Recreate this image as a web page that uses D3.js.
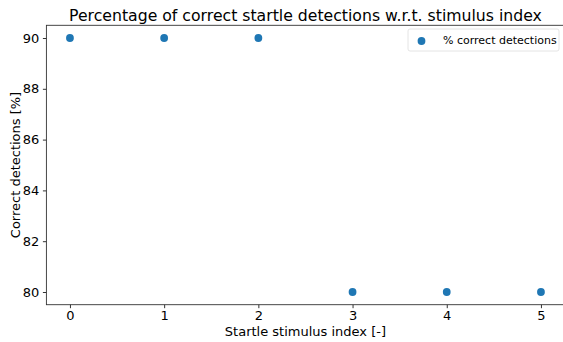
<!DOCTYPE html>
<html>
<head>
<meta charset="utf-8">
<script src="https://cdn.jsdelivr.net/npm/d3@7"></script>
<style>
  body { margin: 0; background: #fff; }
  text { font-family: "DejaVu Sans", sans-serif; fill: #000; }
</style>
</head>
<body>
<script>
const stimulusIndex = [0, 1, 2, 3, 4, 5];
const correctPct = [90, 90, 90, 80, 80, 80];
const yTicks = [80, 82, 84, 86, 88, 90];
const xTicks = [0, 1, 2, 3, 4, 5];

const width = 563, height = 342;
const plot = { left: 46.4, right: 564.5, top: 25.3, bottom: 304.7 };

const x = d3.scaleLinear().domain([-0.25, 5.25]).range([plot.left, plot.right]);
const y = d3.scaleLinear().domain([79.5, 90.5]).range([plot.bottom, plot.top]);

const svg = d3.select('body')
    .append('svg')
    .attr('width', width)
    .attr('height', height);

// Title
svg.append('text')
    .attr('x', (plot.left + plot.right) / 2)
    .attr('y', 21)
    .attr('text-anchor', 'middle')
    .style('font-size', '15.7px')
    .text('Percentage of correct startle detections w.r.t. stimulus index');

// Axes
const xAxis = svg.append('g')
    .attr('transform', `translate(0, ${plot.bottom})`)
    .call(d3.axisBottom(x).tickValues(xTicks).tickSize(3.5).tickPadding(3).tickFormat(d3.format('d')));

const yAxis = svg.append('g')
    .attr('transform', `translate(${plot.left}, 0)`)
    .call(d3.axisLeft(y).tickValues(yTicks).tickSize(3.5).tickPadding(3.5).tickFormat(d3.format('d')));

[xAxis, yAxis].forEach(g => {
    g.selectAll('text').style('font-size', '13px').attr('fill', '#000');
    g.selectAll('line').attr('stroke', '#333');
    g.select('.domain').remove();
});

// Frame
svg.append('rect')
    .attr('x', plot.left)
    .attr('y', plot.top)
    .attr('width', plot.right - plot.left)
    .attr('height', plot.bottom - plot.top)
    .attr('fill', 'none')
    .attr('stroke', '#333')
    .attr('stroke-width', 0.9);

// Axis labels
svg.append('text')
    .attr('x', (plot.left + plot.right) / 2)
    .attr('y', 336)
    .attr('text-anchor', 'middle')
    .style('font-size', '13px')
    .text('Startle stimulus index [-]');

svg.append('text')
    .attr('transform', `translate(20, ${(plot.top + plot.bottom) / 2}) rotate(-90)`)
    .attr('text-anchor', 'middle')
    .style('font-size', '13px')
    .text('Correct detections [%]');

// Points
svg.selectAll('circle.pt')
    .data(stimulusIndex)
    .enter()
    .append('circle')
    .attr('class', 'pt')
    .attr('cx', d => x(d))
    .attr('cy', (d, i) => y(correctPct[i]))
    .attr('r', 3.9)
    .attr('fill', '#1f77b4');

// Legend
const legend = svg.append('g').attr('transform', 'translate(408, 29)');
legend.append('rect')
    .attr('width', 151)
    .attr('height', 22)
    .attr('rx', 2)
    .attr('fill', '#fff')
    .attr('fill-opacity', 0.8)
    .attr('stroke', '#ddd')
    .attr('stroke-width', 0.8);
legend.append('circle')
    .attr('cx', 13.5)
    .attr('cy', 12)
    .attr('r', 3.9)
    .attr('fill', '#1f77b4');
legend.append('text')
    .attr('x', 35)
    .attr('y', 15)
    .style('font-size', '11px')
    .text('% correct detections');
</script>
</body>
</html>
